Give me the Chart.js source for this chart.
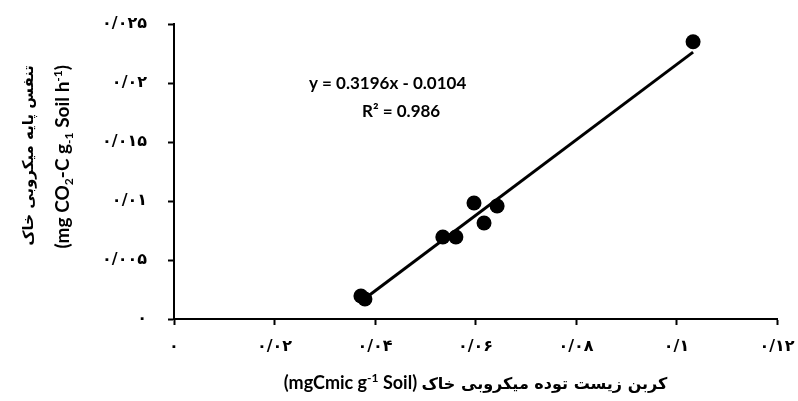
<!DOCTYPE html>
<html>
<head>
<meta charset="utf-8">
<script src="https://cdn.jsdelivr.net/npm/chart.js@4.4.1/dist/chart.umd.min.js"></script>
<style>
  html, body { margin: 0; padding: 0; background: #fff; }
</style>
</head>
<body>
<canvas id="myChart" width="798" height="401"></canvas>
<script>
// microbial biomass carbon (x) vs. basal respiration (y)
const biomassC  = [0.0372, 0.0380, 0.0535, 0.0561, 0.0597, 0.0617, 0.0643, 0.1033];
const basalResp = [0.00195, 0.0017, 0.00695, 0.00695, 0.00983, 0.00814, 0.00958, 0.0235];

// linear trendline
const slope     = 0.3196;
const intercept = -0.0104;
const rSquared  = 0.986;

const xTickLabels = ['۰', '۰/۰۲', '۰/۰۴', '۰/۰۶', '۰/۰۸', '۰/۱', '۰/۱۲'];
const yTickLabels = ['۰', '۰/۰۰۵', '۰/۰۱', '۰/۰۱۵', '۰/۰۲', '۰/۰۲۵'];

const latin   = 'Lato, "DejaVu Sans", sans-serif';
const persian = '"DejaVu Sans", sans-serif';

const points = biomassC.map((x, i) => ({ x: x, y: basalResp[i] }));
const xMin = Math.min(...biomassC);
const xMax = Math.max(...biomassC);
const trend = [xMin, xMax].map(x => ({ x: x, y: slope * x + intercept }));

// draws a row of text pieces left to right; pieces may be raised/lowered or RTL
function drawRuns(ctx, runs, x, y, align) {
    let total = 0;
    runs.forEach(r => {
        ctx.font = r.font;
        r.w = ctx.measureText(r.text).width;
        total += r.w;
    });
    let cx = align === 'right' ? x - total : (align === 'center' ? x - total / 2 : x);
    runs.forEach(r => {
        ctx.font = r.font;
        ctx.direction = r.rtl ? 'rtl' : 'ltr';
        ctx.textAlign = r.rtl ? 'right' : 'left';
        ctx.fillText(r.text, r.rtl ? cx + r.w : cx, y + (r.dy || 0));
        cx += r.w;
    });
}

const big   = 'bold 19px ' + latin;
const small = 'bold 12px ' + latin;
const fa    = 'bold 15px ' + persian;
const xBig  = 'bold 18px ' + latin;
const xFa   = 'bold 16px ' + persian;

const titles = {
    id: 'titles',
    afterDraw(chart) {
        const ctx = chart.ctx;
        const area = chart.chartArea;
        ctx.save();
        ctx.fillStyle = '#000';
        ctx.textBaseline = 'alphabetic';

        // x axis title
        drawRuns(ctx, [
            { text: '(mgCmic g', font: xBig },
            { text: '-1', font: small, dy: -7 },
            { text: ' Soil) ', font: xBig },
            { text: 'کربن زیست توده میکروبی خاک', font: xFa, rtl: true }
        ], (area.left + area.right) / 2, 389, 'center');

        // y axis title, rotated, both lines ending at the same top point
        ctx.save();
        ctx.translate(0, 65);
        ctx.rotate(-Math.PI / 2);
        drawRuns(ctx, [
            { text: 'تنفس پایه میکروبی خاک', font: fa, rtl: true }
        ], 0, 33, 'right');
        drawRuns(ctx, [
            { text: '(mg CO', font: big },
            { text: '2', font: small, dy: 4 },
            { text: '-C g', font: big },
            { text: '-1', font: small, dy: 4 },
            { text: ' Soil h', font: big },
            { text: '-1', font: small, dy: -7 },
            { text: ')', font: big }
        ], 0, 69, 'right');
        ctx.restore();

        // trendline equation
        ctx.font = 'bold 17px ' + latin;
        ctx.direction = 'ltr';
        ctx.textAlign = 'left';
        ctx.fillText('y = ' + slope + 'x - ' + Math.abs(intercept), 309, 89);
        ctx.fillText('R² = ' + rSquared, 362, 117);
        ctx.restore();
    }
};

const axisFont = { family: persian, size: 16, weight: 'bold' };
const axisGrid = { drawOnChartArea: false, tickLength: 6, tickColor: '#000', tickWidth: 2 };

new Chart(document.getElementById('myChart'), {
    type: 'scatter',
    data: {
        datasets: [
            {
                data: points,
                pointRadius: 7.5,
                pointBackgroundColor: '#000',
                pointBorderWidth: 0,
                pointHoverRadius: 7.5
            },
            {
                data: trend,
                showLine: true,
                borderColor: '#000',
                borderWidth: 3,
                pointRadius: 0
            }
        ]
    },
    options: {
        responsive: false,
        animation: false,
        layout: { padding: { top: 24, right: 21, left: 0, bottom: 0 } },
        plugins: {
            legend: { display: false },
            tooltip: { enabled: false }
        },
        scales: {
            x: {
                type: 'linear',
                min: 0,
                max: 0.12,
                afterFit: s => {
                    s.height = 82;
                    s.paddingLeft = 0;
                    s.paddingRight = 0;
                },
                grid: axisGrid,
                border: { color: '#000', width: 2 },
                ticks: {
                    stepSize: 0.02,
                    color: '#000',
                    font: axisFont,
                    padding: 12,
                    maxRotation: 0,
                    autoSkip: false,
                    callback: (v, i) => xTickLabels[i]
                }
            },
            y: {
                min: 0,
                max: 0.025,
                afterFit: s => {
                    s.width = 174;
                    s.paddingTop = 0;
                    s.paddingBottom = 0;
                },
                grid: axisGrid,
                border: { color: '#000', width: 2 },
                ticks: {
                    stepSize: 0.005,
                    color: '#000',
                    font: axisFont,
                    padding: 21,
                    autoSkip: false,
                    callback: (v, i) => yTickLabels[i]
                }
            }
        }
    },
    plugins: [titles]
});
</script>
</body>
</html>
